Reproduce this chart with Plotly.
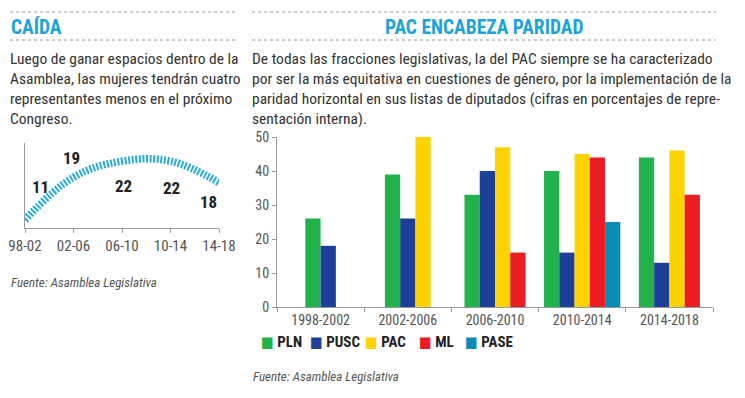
import plotly.graph_objects as go

# ---------------- data ----------------
women_periods = ["98-02", "02-06", "06-10", "10-14", "14-18"]
women_counts = [11, 19, 22, 22, 18]

periods = ["1998-2002", "2002-2006", "2006-2010", "2010-2014", "2014-2018"]
parties = ["PLN", "PUSC", "PAC", "ML", "PASE"]
pln = [26, 39, 33, 40, 44]
pusc = [18, 26, 40, 16, 13]
pac = [None, 50, 47, 45, 46]
ml = [None, None, 16, 44, 33]
pase = [None, None, None, 25, None]
y_ticks = [0, 10, 20, 30, 40, 50]

colors = {"PLN": "#22b24c", "PUSC": "#1e3f98", "PAC": "#ffd300",
          "ML": "#ec1c24", "PASE": "#0b8cb6"}

# page body has an 8px margin: the figure fills the rest of the 745x398 window
OFF = 8
W, H = 745 - OFF, 398 - OFF
FONT = "Liberation Sans Narrow, Roboto Condensed, DejaVu Sans Condensed, Arial Narrow, sans-serif"
TXT = "#333333"
GRAY = "#555555"
BLUE = "#1ba3dc"


def px(x):
    """window pixel x -> paper fraction"""
    return (x - OFF) / W


def py(y):
    """window pixel y -> paper fraction"""
    return 1 - (y - OFF) / H


fig = go.Figure()

# ---------------- left chart: hatched arc ----------------
fig.add_trace(go.Scatter(
    x=list(range(len(women_counts))), y=women_counts,
    mode="lines", line=dict(shape="spline", smoothing=1.1, width=7.5,
                            color="#29aae1", dash="2px,1.6px"),
    xaxis="x", yaxis="y", showlegend=False, hoverinfo="skip"))

label_shifts = [(15, 33), (-2, 19), (1, -25), (1, -27), (-11, -19)]
for i, (v, (dx, dy)) in enumerate(zip(women_counts, label_shifts)):
    fig.add_annotation(x=i, y=v, xref="x", yref="y", text=f"<b>{v}</b>",
                       showarrow=False, xshift=dx, yshift=dy,
                       font=dict(family=FONT, size=17, color="#222222"))

# ---------------- right chart: grouped bars (only present parties, centred) ----------------
values = {"PLN": pln, "PUSC": pusc, "PAC": pac, "ML": ml, "PASE": pase}
BW = 0.175
offsets = {p: [0.0] * len(periods) for p in parties}
for g in range(len(periods)):
    present = [p for p in parties if values[p][g] is not None]
    n = len(present)
    for k, p in enumerate(present):
        offsets[p][g] = (k - n / 2) * BW

for p in parties:
    fig.add_trace(go.Bar(
        x=periods, y=values[p], name=p,
        marker=dict(color=colors[p], line=dict(width=0)),
        width=BW, offset=offsets[p], xaxis="x2", yaxis="y2", showlegend=False))

# legend row
legend_x = [259, 308, 363, 417, 463]
for p, lx in zip(parties, legend_x):
    fig.add_annotation(xref="paper", yref="paper", x=px(lx), y=py(342), xanchor="left",
                       yanchor="middle", showarrow=False,
                       text=f"<span style='color:{colors[p]}'>■</span> <b>{p}</b>",
                       font=dict(family=FONT, size=15, color="#222222"))

fig.update_layout(
    template="none",
    width=W, height=H, margin=dict(l=0, r=0, t=0, b=0, pad=0), autosize=False,
    paper_bgcolor="white", plot_bgcolor="white",
    barmode="overlay", showlegend=False,
    font=dict(family=FONT, color=TXT),
    xaxis=dict(domain=[px(25), px(219)], range=[0, 4], tickvals=list(range(5)),
               ticktext=women_periods, showline=True, linecolor="#9a9a9a", linewidth=1,
               ticks="outside", ticklen=4, tickcolor="#9a9a9a", showgrid=False,
               zeroline=False, automargin=False,
               tickfont=dict(family=FONT, size=15, color=GRAY)),
    yaxis=dict(domain=[py(228), py(143)], range=[9.5, 25.4], showline=True,
               linecolor="#9a9a9a", showticklabels=False, ticks="", showgrid=False,
               zeroline=False, automargin=False),
    xaxis2=dict(domain=[px(277), px(713)], type="category", tickson="boundaries",
                showline=True, linecolor="#9a9a9a", ticks="outside", ticklen=4,
                tickcolor="#9a9a9a", showgrid=False, anchor="y2", automargin=False,
                tickfont=dict(family=FONT, size=14, color=GRAY)),
    yaxis2=dict(domain=[py(307), py(137)], range=[0, 50], tickvals=y_ticks,
                showline=True, linecolor="#9a9a9a", ticks="outside", ticklen=4,
                tickcolor="#9a9a9a", showgrid=False, zeroline=False, anchor="x2",
                automargin=False, tickfont=dict(family=FONT, size=14, color=GRAY)),
)

# dotted rules
for x0, x1 in [(10, 238), (252, 716)]:
    for yy in (12, 40):
        fig.add_shape(type="line", xref="paper", yref="paper", x0=px(x0), x1=px(x1),
                      y0=py(yy), y1=py(yy), line=dict(color="#9a9a9a", width=1, dash="dot"))

# titles
fig.add_annotation(xref="paper", yref="paper", x=px(9), y=py(27), xanchor="left",
                   yanchor="middle", showarrow=False, text="<b>CAÍDA</b>",
                   font=dict(family=FONT, size=19.5, color=BLUE))
fig.add_annotation(xref="paper", yref="paper", x=px(484), y=py(27), xanchor="center",
                   yanchor="middle", showarrow=False, text="<b>PAC ENCABEZA PARIDAD</b>",
                   font=dict(family=FONT, size=19.5, color=BLUE))

# body texts
fig.add_annotation(xref="paper", yref="paper", x=px(8), y=py(48), xanchor="left",
                   yanchor="top", showarrow=False, align="left",
                   text=("Luego de ganar espacios dentro de la<br>"
                         "Asamblea, las mujeres tendrán cuatro<br>"
                         "representantes menos en el próximo<br>Congreso."),
                   font=dict(family=FONT, size=15.5, color=TXT))
fig.add_annotation(xref="paper", yref="paper", x=px(250), y=py(48), xanchor="left",
                   yanchor="top", showarrow=False, align="left",
                   text=("De todas las fracciones legislativas, la del PAC siempre se ha caracterizado<br>"
                         "por ser la más equitativa en cuestiones de género, por la implementación de la<br>"
                         "paridad horizontal en sus listas de diputados (cifras en porcentajes de repre-<br>"
                         "sentación interna)."),
                   font=dict(family=FONT, size=15.5, color=TXT))

# sources
for x0, y0 in [(9, 282), (251, 376)]:
    fig.add_annotation(xref="paper", yref="paper", x=px(x0), y=py(y0), xanchor="left",
                       yanchor="middle", showarrow=False,
                       text="<i>Fuente: Asamblea Legislativa</i>",
                       font=dict(family=FONT, size=13, color=GRAY))

fig.write_html("out.html")
